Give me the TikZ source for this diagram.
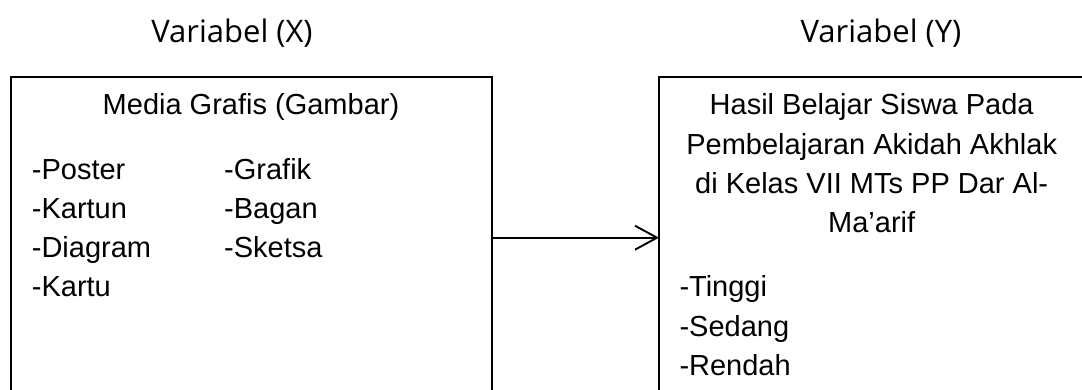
\documentclass[tikz,border=0pt]{standalone}
\usepackage{fontspec}
\setmainfont{Liberation Sans}
\newfontfamily\headfont{Open Sans}
\usetikzlibrary{arrows.meta}
\begin{document}
\begin{tikzpicture}[x=1pt,y=-1pt,
  varbox/.style={draw=black, line width=1.9pt, inner sep=0pt, outer sep=0pt},
  head/.style={font=\headfont\fontsize{31}{36}\selectfont, inner sep=0pt, anchor=base},
  txt/.style={font=\fontsize{29}{39}\selectfont, inner sep=0pt},
  link/.style={draw=black, line width=1.9pt, -{Straight Barb[length=22pt,width=24pt,line width=1.9pt]}}
]
\useasboundingbox (0,0) rectangle (1082,390);
\begin{scope}
\clip (0,0) rectangle (1082,390);
\node[varbox, minimum width=481pt, minimum height=321.4pt] (lbox) at (251.5,237.7) {};
\node[varbox, minimum width=431pt, minimum height=321.4pt] (rbox) at (874.5,237.7) {};
\end{scope}
\node[head] (hx) at (232,43) {Variabel (X)};
\node[head] (hy) at (881,43) {Variabel (Y)};
\node[txt, anchor=base] (ltitle) at (251,115) {Media Grafis (Gambar)};
\foreach \t [count=\i] in {-Poster,-Kartun,-Diagram,-Kartu}
  \node[txt, anchor=base west] (la\i) at (31.7,{180+39*(\i-1)}) {\t};
\foreach \t [count=\i] in {-Grafik,-Bagan,-Sketsa}
  \node[txt, anchor=base west] (lb\i) at (224,{180+39*(\i-1)}) {\t};
\foreach \t [count=\i] in {Hasil Belajar Siswa Pada,Pembelajaran Akidah Akhlak,di Kelas VII MTs PP Dar Al-,Ma’arif}
  \node[txt, anchor=base] (rt\i) at (871.7,{115+39.3*(\i-1)}) {\t};
\foreach \t [count=\i] in {-Tinggi,-Sedang,-Rendah}
  \node[txt, anchor=base west] (ri\i) at (679.3,{297+39*(\i-1)}) {\t};
\draw[link] (lbox.east) -- (rbox.west);
\end{tikzpicture}
\end{document}
